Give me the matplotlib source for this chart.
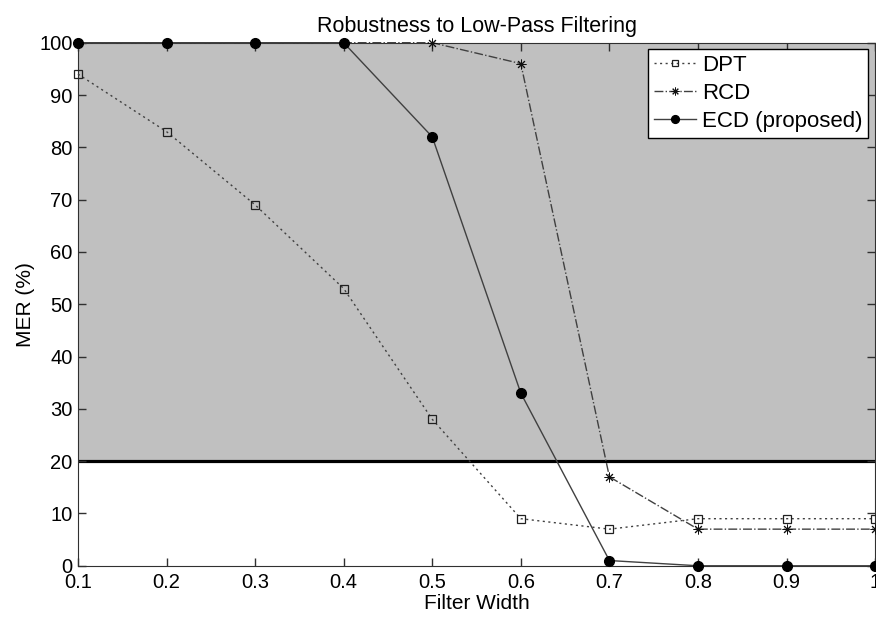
import matplotlib
matplotlib.use("Agg")
import matplotlib.pyplot as plt

plt.rcParams['font.family'] = ['Liberation Sans', 'DejaVu Sans']

# data
width = [0.1, 0.2, 0.3, 0.4, 0.5, 0.6, 0.7, 0.8, 0.9, 1.0]
dpt = [94, 83, 69, 53, 28, 9, 7, 9, 9, 9]
rcd = [100, 100, 100, 100, 100, 96, 17, 7, 7, 7]
ecd = [100, 100, 100, 100, 82, 33, 1, 0, 0, 0]
threshold = 20
xlabels = ['0.1', '0.2', '0.3', '0.4', '0.5', '0.6', '0.7', '0.8', '0.9', '1']

line_col = '#404040'

fig = plt.figure(figsize=(8.76, 6.19), dpi=100)
ax = fig.add_axes([0.089, 0.086, 0.910, 0.845])

# shaded region above threshold
ax.axhspan(threshold, 100, color='#c0c0c0', zorder=0)
ax.axhline(threshold, color='black', lw=2.3, zorder=1)

ax.plot(width, dpt, color=line_col, lw=1, dashes=(1.5, 2.5), marker='s', ms=6,
        mfc='none', mec='#202020', mew=0.9, label='DPT', clip_on=False, zorder=3)
ax.plot(width, rcd, '-.', color=line_col, lw=1, marker=(8, 2, 0), ms=7,
        mec='#101010', mew=0.7, label='RCD', clip_on=False, zorder=3)
ax.plot(width, ecd, '-', color=line_col, lw=1, marker='o', ms=7,
        mfc='black', mec='black', label='ECD (proposed)', clip_on=False, zorder=3)

ax.set_xlim(0.1, 1.0)
ax.set_ylim(0, 100)
ax.set_xticks(width)
ax.set_xticklabels(xlabels)
ax.set_yticks(range(0, 101, 10))
ax.tick_params(direction='in', length=6, labelsize=14.5, top=True, right=True,
               width=1, color='#303030')
ax.tick_params(axis='x', pad=5)
ax.tick_params(axis='y', pad=4)
for s in ax.spines.values():
    s.set_color('#303030')

ax.set_title('Robustness to Low-Pass Filtering', fontsize=15.5, pad=8)
ax.set_xlabel('Filter Width', fontsize=15, labelpad=2)
ax.set_ylabel('MER (%)', fontsize=15, labelpad=3)

leg = ax.legend(loc='upper right', fontsize=16, fancybox=False, framealpha=1,
                edgecolor='black', borderaxespad=0.3, handlelength=1.9,
                handletextpad=0.3, labelspacing=0.32, borderpad=0.25,
                markerscale=0.8)
leg.get_frame().set_linewidth(1)

fig.savefig('out.png', dpi=100)
